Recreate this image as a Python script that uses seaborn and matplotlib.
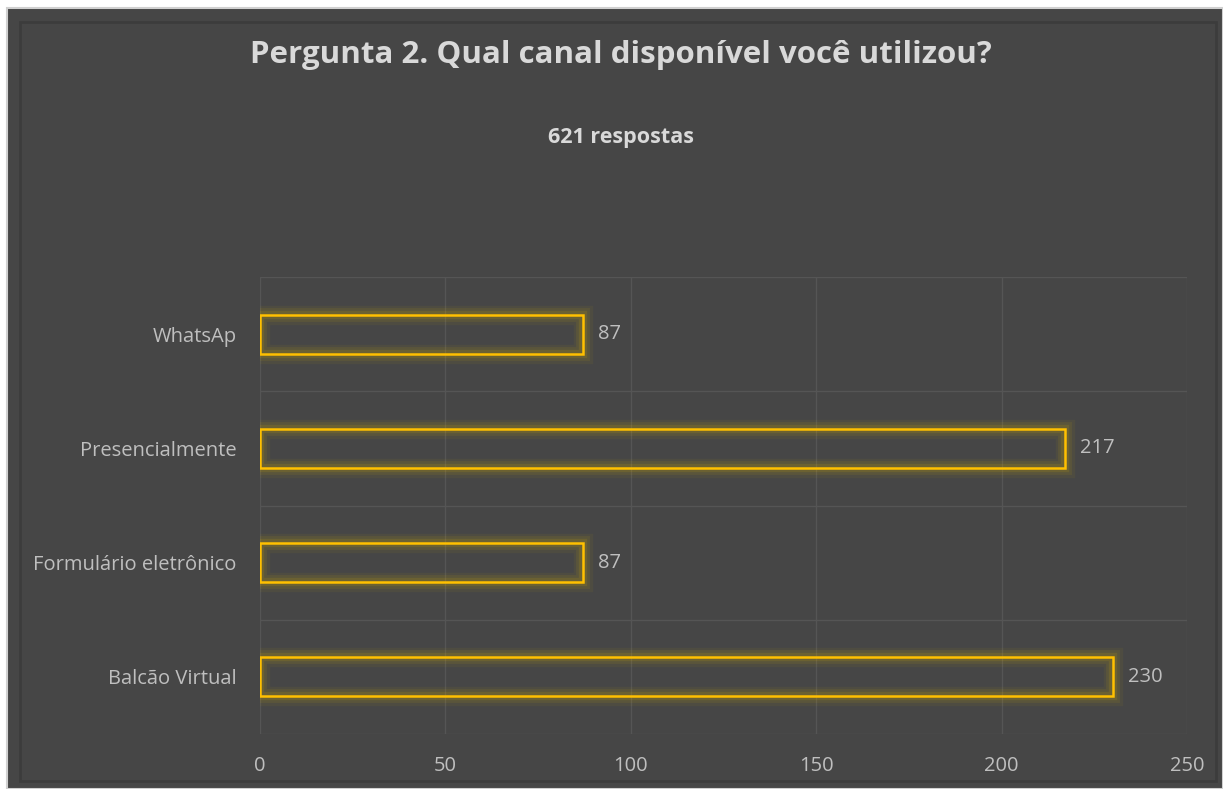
import matplotlib
matplotlib.use("Agg")
import matplotlib.pyplot as plt
import seaborn as sns
import pandas as pd
from matplotlib.patches import Rectangle

# data
canais = ["WhatsAp", "Presencialmente", "Formulário eletrônico", "Balcão Virtual"]
respostas = [87, 217, 87, 230]
x_ticks = [0, 50, 100, 150, 200, 250]

df = pd.DataFrame({"canal": canais, "n": respostas})

bg = "#464646"
grid_c = "#555555"
txt_c = "#bfbfbf"
gold = "#FFC000"

sns.set_theme(style="dark")
plt.rcParams["font.family"] = ["Open Sans", "DejaVu Sans"]

fig = plt.figure(figsize=(12.23, 7.89), dpi=100, facecolor="white")
# dark chart frame with light border
fig.patches.append(Rectangle((7 / 1223, 0), 1 - 7 / 1223, 1 - 8 / 789, transform=fig.transFigure,
                             facecolor=bg, edgecolor="#d0d0d0", linewidth=1.5, zorder=-2))
fig.patches.append(Rectangle((20 / 1223, 8 / 789), 1 - 27 / 1223, 1 - 30 / 789, transform=fig.transFigure,
                             facecolor="none", edgecolor="#3c3c3c", linewidth=2, zorder=-1))

ax = fig.add_axes([260 / 1223, 55 / 789, 927 / 1223, 457 / 789])
ax.set_zorder(2)
ax.set_facecolor(bg)

# soft glow layers, then the real outline
for lw, a in [(14, 0.06), (10, 0.09), (6, 0.14)]:
    sns.barplot(data=df, x="n", y="canal", order=canais, ax=ax, width=0.34,
                facecolor="none", edgecolor="#d9b000", linewidth=lw, alpha=a)
sns.barplot(data=df, x="n", y="canal", order=canais, ax=ax, width=0.34,
            facecolor="none", edgecolor=gold, linewidth=1.8)

ax.bar_label(ax.containers[-1], labels=[str(v) for v in respostas], padding=11,
             color=txt_c, fontsize=14.5)

ax.set_xlim(0, 250)
ax.set_ylim(3.5, -0.5)
ax.set_xticks(x_ticks)
ax.set_yticks([-0.5, 0.5, 1.5, 2.5, 3.5], minor=True)
ax.grid(False)
ax.grid(True, axis="x", which="major", color=grid_c, linewidth=1)
ax.grid(True, axis="y", which="minor", color=grid_c, linewidth=1)
ax.tick_params(axis="both", which="both", length=0, colors=txt_c, labelsize=14.5)
ax.tick_params(axis="y", pad=17)
ax.tick_params(axis="x", pad=16)
ax.set_xlabel("")
ax.set_ylabel("")
for s in ax.spines.values():
    s.set_visible(False)

fig.text(0.508, 1 - 55 / 789, "Pergunta 2. Qual canal disponível você utilizou?",
         ha="center", va="center", fontsize=22.5, fontweight="bold", color="#d9d9d9")
fig.text(0.508, 1 - 138 / 789, "621 respostas", ha="center", va="center",
         fontsize=15.5, fontweight="bold", color="#d9d9d9")

fig.savefig("out.png", dpi=100, facecolor=fig.get_facecolor())
